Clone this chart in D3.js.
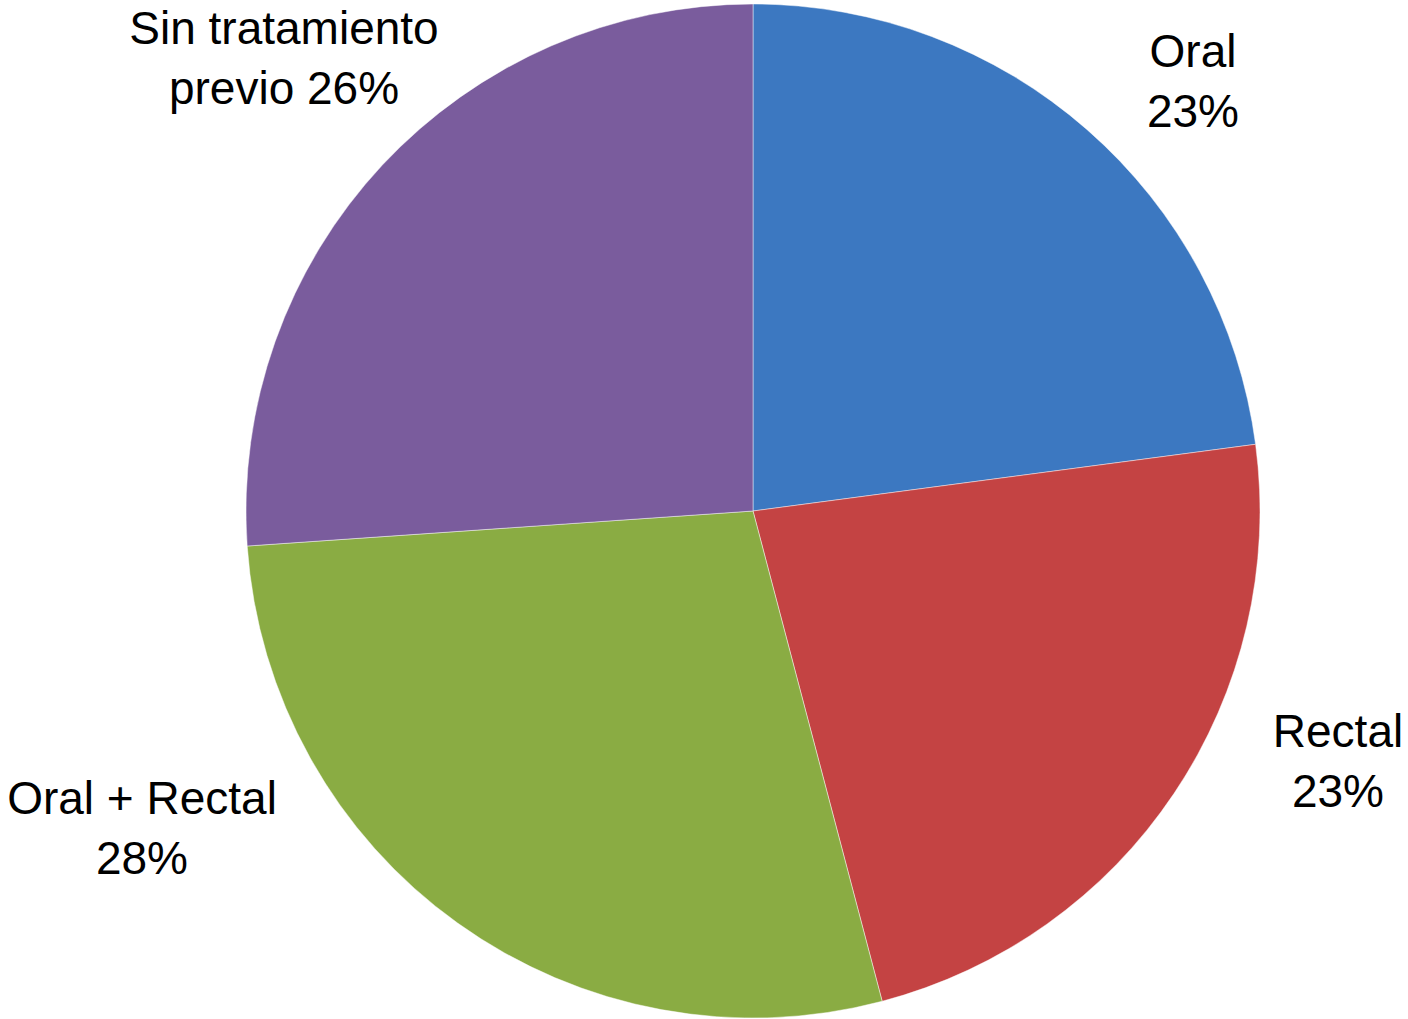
<!DOCTYPE html>
<html>
<head>
<meta charset="utf-8">
<script src="https://cdn.jsdelivr.net/npm/d3@7"></script>
<style>
  html, body { margin: 0; padding: 0; background: #fff; }
  svg { display: block; }
  text { font-family: "Liberation Sans", Arial, Helvetica, sans-serif; fill: #000; }
</style>
</head>
<body>
<svg id="chart" width="1408" height="1019"></svg>
<script>
const categories = ["Oral", "Rectal", "Oral + Rectal", "Sin tratamiento previo"];
const values = [22.9, 23.0, 28.0, 26.1];
const colors = ["#3c78c1", "#c44343", "#8aac43", "#7a5c9d"];
const labelLines = [["Oral", "23%"], ["Rectal", "23%"], ["Oral + Rectal", "28%"], ["Sin tratamiento", "previo 26%"]];
const labelPos = [[1193, 67], [1338, 747], [142, 814], [284, 44]];

const svg = d3.select("#chart");
const cx = 753, cy = 511, R = 507;
const data = categories.map((c, i) => ({ name: c, value: values[i], i }));
const pie = d3.pie().value(d => d.value).sort(null);
const arc = d3.arc().innerRadius(0).outerRadius(R);
const color = d3.scaleOrdinal().domain(categories).range(colors);

const g = svg.append("g").attr("transform", `translate(${cx},${cy})`);
g.selectAll("path").data(pie(data)).join("path")
  .attr("d", arc)
  .attr("fill", d => color(d.data.name))
  .attr("stroke", "rgba(255,255,255,0.45)")
  .attr("stroke-width", 1);

const lg = svg.append("g");
data.forEach((d, i) => {
  const t = lg.append("text")
    .attr("x", labelPos[i][0]).attr("y", labelPos[i][1])
    .attr("text-anchor", "middle")
    .attr("font-size", 46);
  labelLines[i].forEach((line, k) => {
    t.append("tspan").attr("x", labelPos[i][0]).attr("dy", k === 0 ? 0 : 60).text(line);
  });
});
</script>
</body>
</html>
